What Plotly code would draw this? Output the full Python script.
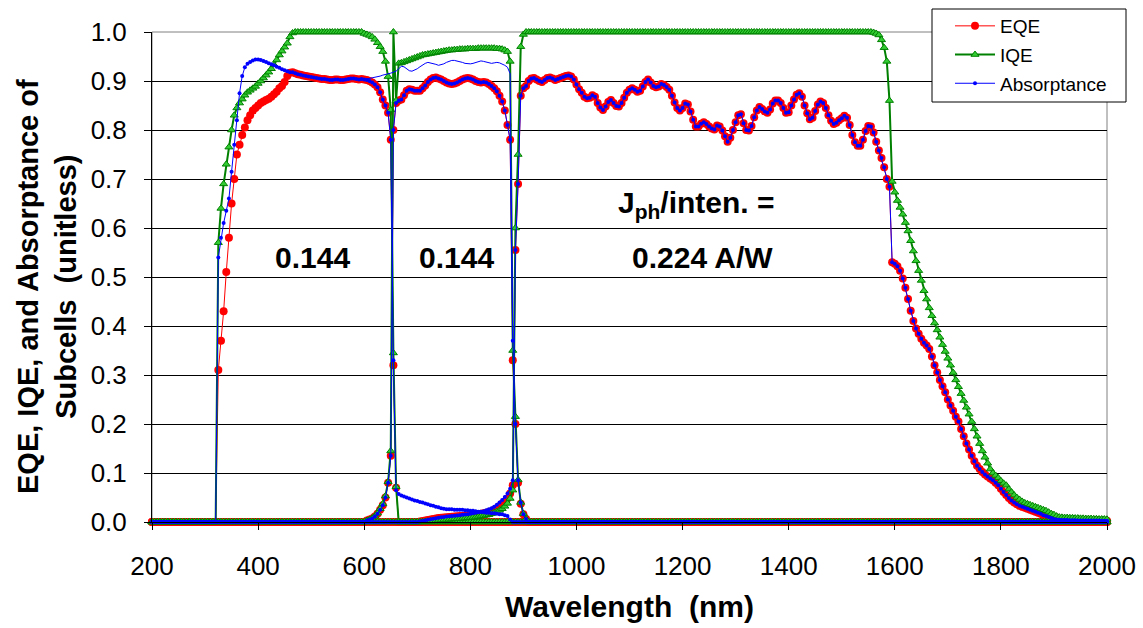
import numpy as np
import plotly.graph_objects as go

STEP = 5
wavelength = np.arange(200, 2001, STEP)

# ---------------- top subcell ----------------
eqe_top_start = 325
eqe_top = [
    0.31, 0.37, 0.43, 0.51, 0.58, 0.65, 0.70, 0.75, 0.77, 0.79, 0.805, 0.82, 0.83, 0.84, 0.845, 0.85, 0.855, 0.858, 0.861, 0.864,
    0.868, 0.873, 0.878, 0.885, 0.89, 0.898, 0.91, 0.917, 0.918, 0.916, 0.914, 0.913, 0.911, 0.91, 0.909, 0.908, 0.907, 0.906, 0.905, 0.904,
    0.904, 0.903, 0.902, 0.902, 0.903, 0.903, 0.902, 0.902, 0.903, 0.904, 0.905, 0.905, 0.904, 0.903, 0.904, 0.903, 0.902, 0.9, 0.897, 0.893,
    0.887, 0.877, 0.862, 0.85, 0.835, 0.78, 0.32, 0.07, 0.0,
]
iqe_top_start = 325
iqe_top = [
    0.57, 0.64, 0.69, 0.73, 0.765, 0.80, 0.83, 0.845, 0.855, 0.863, 0.871, 0.877, 0.881, 0.885, 0.889, 0.895, 0.90, 0.906, 0.912, 0.918,
    0.925, 0.933, 0.943, 0.953, 0.961, 0.969, 0.977, 0.99, 0.998, 1.0, 1.0, 1.0, 1.0, 1.0, 1.0, 1.0, 1.0, 1.0, 1.0, 1.0,
    1.0, 1.0, 1.0, 1.0, 1.0, 1.0, 1.0, 1.0, 1.0, 1.0, 1.0, 1.0, 1.0, 1.0, 1.0, 0.997, 0.995, 0.993, 0.99, 0.985,
    0.978, 0.97, 0.96, 0.94, 0.909, 0.841, 0.345, 0.072, 0.0,
]
abs_top_start = 325
abs_top_uv = [
    0.54, 0.58, 0.61, 0.635, 0.66, 0.715, 0.77, 0.82, 0.875, 0.91, 0.928, 0.935, 0.939, 0.942,
    0.944, 0.944, 0.943, 0.941, 0.939, 0.936, 0.934, 0.932, 0.929, 0.927, 0.924, 0.922, 0.92, 0.918,
]
abs_top_edge = [0.33, 0.065]
abs_top_tail = [
    0.057, 0.054, 0.052, 0.05, 0.048, 0.046, 0.044, 0.043, 0.041, 0.04, 0.038, 0.036, 0.034, 0.033, 0.031, 0.03, 0.028, 0.027, 0.026, 0.026,
    0.026, 0.025, 0.025, 0.025, 0.025, 0.024, 0.024, 0.023, 0.023, 0.022, 0.021, 0.021, 0.02, 0.019, 0.019, 0.018, 0.018, 0.017, 0.016, 0.016,
    0.014, 0.012, 0.005, 0.0,
]
# above 465 nm the top-cell absorptance follows its EQE (IQE = 1)
abs_top = abs_top_uv + eqe_top[28:66] + abs_top_edge + abs_top_tail

# ---------------- middle subcell ----------------
eqe_mid_start = 600
eqe_mid = [
    0.0, 0.003, 0.005, 0.007, 0.011, 0.017, 0.025, 0.034, 0.05, 0.08, 0.135, 0.80, 0.855, 0.86, 0.862, 0.871, 0.88, 0.883, 0.882, 0.88,
    0.88, 0.88, 0.885, 0.891, 0.898, 0.903, 0.906, 0.907, 0.905, 0.903, 0.9, 0.897, 0.895, 0.894, 0.895, 0.897, 0.9, 0.903, 0.905, 0.906,
    0.905, 0.903, 0.9, 0.898, 0.897, 0.898, 0.897, 0.894, 0.89, 0.885, 0.879, 0.87, 0.858, 0.84, 0.81, 0.78, 0.33, 0.20, 0.08, 0.037,
    0.016, 0.006, 0.0,
]
iqe_mid_start = 600
iqe_mid = [
    0.0, 0.003, 0.005, 0.008, 0.012, 0.018, 0.027, 0.037, 0.053, 0.082, 0.145, 1.0, 0.86, 0.936, 0.937, 0.939, 0.941, 0.943, 0.945, 0.947,
    0.949, 0.951, 0.953, 0.954, 0.955, 0.956, 0.957, 0.958, 0.959, 0.96, 0.961, 0.962, 0.963, 0.963, 0.964, 0.964, 0.965, 0.965, 0.965, 0.966,
    0.966, 0.966, 0.966, 0.967, 0.967, 0.967, 0.967, 0.967, 0.967, 0.967, 0.966, 0.966, 0.965, 0.963, 0.96, 0.94, 0.35, 0.215, 0.086, 0.04,
    0.017, 0.006, 0.0,
]
abs_mid_start = 600
abs_mid_edge = [0.37, 0.20, 0.085, 0.04, 0.016, 0.006, 0.0]
abs_mid = eqe_mid[:56] + abs_mid_edge
# total absorptance of the middle junction, drawn as a plain line
abs_mid_total_start = 600
abs_mid_total = [
    0.903, 0.904, 0.905, 0.906, 0.907, 0.909, 0.91, 0.912, 0.913, 0.915, 0.916, 0.918, 0.92, 0.925, 0.93, 0.929, 0.925, 0.921, 0.92, 0.922,
    0.925, 0.929, 0.933, 0.936, 0.938, 0.937, 0.936, 0.934, 0.932, 0.933, 0.935, 0.938, 0.94, 0.942, 0.942, 0.941, 0.94, 0.938, 0.936, 0.935,
    0.935, 0.936, 0.938, 0.94, 0.941, 0.94, 0.939, 0.937, 0.936, 0.937, 0.938, 0.937, 0.935, 0.932, 0.928, 0.915, 0.37,
]

# ---------------- bottom subcell ----------------
eqe_bot_start = 700
eqe_bot = [
    0.0, 0.001, 0.002, 0.003, 0.004, 0.005, 0.006, 0.007, 0.008, 0.0085, 0.009, 0.0095, 0.01, 0.0105, 0.011, 0.0115, 0.012, 0.0125, 0.013, 0.0135,
    0.014, 0.0145, 0.015, 0.016, 0.017, 0.018, 0.019, 0.0205, 0.022, 0.025, 0.028, 0.032, 0.037, 0.042, 0.048, 0.058, 0.075, 0.555, 0.69, 0.87,
    0.885, 0.89, 0.9, 0.905, 0.906, 0.903, 0.9, 0.898, 0.902, 0.906, 0.907, 0.905, 0.902, 0.904, 0.906, 0.908, 0.91, 0.911, 0.909, 0.903,
    0.893, 0.883, 0.876, 0.868, 0.865, 0.866, 0.871, 0.868, 0.855, 0.846, 0.841, 0.848, 0.857, 0.861, 0.855, 0.849, 0.848, 0.855, 0.866, 0.876,
    0.882, 0.885, 0.882, 0.878, 0.88, 0.889, 0.898, 0.903, 0.897, 0.89, 0.887, 0.889, 0.894, 0.892, 0.888, 0.882, 0.87, 0.856, 0.845, 0.84,
    0.845, 0.854, 0.852, 0.838, 0.821, 0.807, 0.807, 0.813, 0.816, 0.812, 0.807, 0.803, 0.801, 0.809, 0.807, 0.799, 0.787, 0.776, 0.784, 0.8,
    0.816, 0.83, 0.832, 0.814, 0.8, 0.799, 0.808, 0.826, 0.84, 0.847, 0.843, 0.838, 0.835, 0.842, 0.854, 0.86, 0.86, 0.855, 0.845, 0.835,
    0.836, 0.85, 0.862, 0.872, 0.875, 0.868, 0.85, 0.834, 0.822, 0.825, 0.839, 0.852, 0.858, 0.855, 0.845, 0.83, 0.819, 0.812, 0.815, 0.82,
    0.824, 0.829, 0.825, 0.81, 0.79, 0.775, 0.768, 0.768, 0.78, 0.798, 0.808, 0.807, 0.795, 0.776, 0.758, 0.743, 0.724, 0.7, 0.684, 0.53,
    0.527, 0.522, 0.513, 0.497, 0.478, 0.455, 0.431, 0.41, 0.395, 0.384, 0.374, 0.366, 0.36, 0.353, 0.338, 0.32, 0.305, 0.29, 0.277, 0.265,
    0.25, 0.238, 0.227, 0.215, 0.205, 0.19, 0.175, 0.16, 0.148, 0.135, 0.124, 0.115, 0.108, 0.102, 0.097, 0.093, 0.089, 0.085, 0.08, 0.075,
    0.068, 0.061, 0.055, 0.049, 0.044, 0.04, 0.036, 0.033, 0.031, 0.029, 0.027, 0.025, 0.023, 0.021, 0.019, 0.017, 0.014, 0.012, 0.01, 0.008,
    0.006, 0.005, 0.0045, 0.004, 0.004, 0.004, 0.0035, 0.0035, 0.0035, 0.003, 0.003, 0.003, 0.003, 0.003, 0.003, 0.003, 0.003, 0.003, 0.0025, 0.0025, 0.0025,
]
iqe_bot_start = 700
iqe_bot = (
    [0.0, 0.0, 0.0005, 0.001, 0.0015, 0.002, 0.0025, 0.003, 0.0035, 0.004, 0.0045, 0.005, 0.0055, 0.006, 0.0065, 0.0065, 0.007, 0.0075, 0.008, 0.0085,
     0.009, 0.0095, 0.01, 0.011, 0.012, 0.013, 0.014, 0.015, 0.017, 0.019, 0.021, 0.024, 0.027, 0.032, 0.038, 0.048, 0.065, 0.6, 0.75, 0.97,
     0.995]
    + [1.0] * 131
    + [0.999, 0.997, 0.994, 0.984, 0.968, 0.94, 0.86, 0.695,
       0.673, 0.656, 0.642, 0.628, 0.611, 0.594, 0.574, 0.553, 0.533, 0.513, 0.493, 0.472, 0.455, 0.437, 0.421, 0.406, 0.392, 0.377, 0.362, 0.348,
       0.334, 0.32, 0.305, 0.29, 0.276, 0.262, 0.248, 0.234, 0.22, 0.205, 0.19, 0.175, 0.16, 0.145, 0.132, 0.12, 0.108, 0.1, 0.095, 0.09,
       0.084, 0.079, 0.075, 0.067, 0.061, 0.055, 0.05, 0.046, 0.042, 0.039, 0.037, 0.035, 0.033, 0.031, 0.029, 0.027, 0.025, 0.023, 0.02, 0.017,
       0.015, 0.012, 0.01, 0.0095, 0.009, 0.009, 0.0085, 0.0085, 0.008, 0.008, 0.0075, 0.0075, 0.007, 0.007, 0.007, 0.0065, 0.0065, 0.006, 0.006, 0.006, 0.0055]
)
abs_bot_start = 700
abs_bot_edge = [
    0.0, 0.001, 0.002, 0.003, 0.0045, 0.0055, 0.0065, 0.0075, 0.0085, 0.0095, 0.01, 0.011, 0.0115, 0.012, 0.013, 0.0135, 0.014, 0.015, 0.0155, 0.016,
    0.017, 0.018, 0.019, 0.02, 0.021, 0.022, 0.024, 0.026, 0.028, 0.031, 0.035, 0.04, 0.045, 0.051, 0.058, 0.068, 0.085,
]
# from 885 nm on the bottom-cell absorptance coincides with its EQE
abs_bot = abs_bot_edge + eqe_bot[37:]

# photocurrent-per-intensity labels
labels = [
    dict(nm=503, val=0.539, text="<b>0.144</b>"),
    dict(nm=773, val=0.539, text="<b>0.144</b>"),
    dict(nm=1227, val=0.647, text="<b>J<sub>ph</sub>/inten. =</b>"),
    dict(nm=1237, val=0.539, text="<b>0.224 A/W</b>"),
]


def on_grid(start, values):
    """Place a subcell spectrum on the common wavelength grid (zero elsewhere)."""
    y = np.zeros(len(wavelength))
    i = (start - int(wavelength[0])) // STEP
    y[i:i + len(values)] = values
    return y


FONT = "Liberation Sans, Arial, sans-serif"
RED, GREEN, LIGHT_GREEN, BLUE = "#FF0000", "#008000", "#33CC33", "#0000FF"

styles = {
    "EQE": dict(line=dict(color=RED, width=1),
                marker=dict(symbol="circle", size=8, color=RED, line=dict(width=0))),
    "IQE": dict(line=dict(color=GREEN, width=2),
                marker=dict(symbol="triangle-up", size=7, color=LIGHT_GREEN, line=dict(color=GREEN, width=1))),
    "Absorptance": dict(line=dict(color=BLUE, width=1),
                        marker=dict(symbol="circle", size=4, color=BLUE, line=dict(width=0))),
}

series = [
    ("EQE", eqe_top_start, eqe_top),
    ("EQE", eqe_mid_start, eqe_mid),
    ("EQE", eqe_bot_start, eqe_bot),
    ("IQE", iqe_top_start, iqe_top),
    ("IQE", iqe_mid_start, iqe_mid),
    ("IQE", iqe_bot_start, iqe_bot),
    ("Absorptance", abs_top_start, abs_top),
    ("Absorptance", abs_mid_start, abs_mid),
    ("Absorptance", abs_bot_start, abs_bot),
]

fig = go.Figure()
seen = set()
for name, start, vals in series:
    fig.add_trace(go.Scatter(
        x=wavelength, y=on_grid(start, vals), mode="lines+markers", name=name,
        legendgroup=name, showlegend=name not in seen, cliponaxis=False,
        **styles[name]))
    seen.add(name)

wl_total = wavelength[(abs_mid_total_start - 200) // STEP:][:len(abs_mid_total)]
fig.add_trace(go.Scatter(
    x=wl_total, y=abs_mid_total, mode="lines", line=dict(color=BLUE, width=1),
    legendgroup="Absorptance", showlegend=False, cliponaxis=False))

# plot-area geometry (pixels)
W, H = 1143, 628
L, R, T, B = 152, 1107, 32, 522


def px(xp):
    return (xp - L) / (R - L)


def py(yp):
    return (B - yp) / (B - T)


for lab in labels:
    fig.add_annotation(x=lab["nm"], y=lab["val"], text=lab["text"], showarrow=False,
                       font=dict(family=FONT, size=30, color="black"),
                       xanchor="center", yanchor="middle")

fig.add_annotation(xref="paper", yref="paper", x=px(47), y=py(287),
                   text="<b>EQE, IQE, and Absorptance of<br>Subcells\u00a0 (unitless)</b>",
                   textangle=-90, showarrow=False, xanchor="center", yanchor="middle",
                   font=dict(family=FONT, size=29, color="black"))
fig.add_annotation(xref="paper", yref="paper", x=0.5, y=py(606),
                   text="<b>Wavelength\u00a0 (nm)</b>", showarrow=False,
                   xanchor="center", yanchor="middle",
                   font=dict(family=FONT, size=30, color="black"))

# plot-area frame and legend box
fig.add_shape(type="rect", xref="paper", yref="paper", x0=0, y0=0, x1=1, y1=1,
              line=dict(color="#808080", width=1), layer="below")
fig.add_shape(type="rect", xref="paper", yref="paper",
              x0=px(932), x1=px(1126), y0=py(102), y1=py(9),
              line=dict(color="black", width=1), fillcolor="white", layer="above")

fig.update_layout(
    width=W, height=H,
    margin=dict(l=L, r=W - R, t=T, b=H - B, pad=0, autoexpand=False),
    paper_bgcolor="white", plot_bgcolor="white",
    font=dict(family=FONT, color="black"),
    showlegend=True,
    legend=dict(x=px(950), y=py(7), xanchor="left", yanchor="top",
                bgcolor="rgba(0,0,0,0)", borderwidth=0,
                font=dict(family=FONT, size=19, color="black"),
                tracegroupgap=1, itemwidth=40),
    xaxis=dict(range=[200, 2000], tick0=200, dtick=200, showgrid=False, zeroline=False,
               showline=True, linecolor="black", linewidth=1,
               ticks="outside", ticklen=7, tickcolor="black",
               tickfont=dict(family=FONT, size=26, color="black"), ticklabelstandoff=14),
    yaxis=dict(range=[0, 1.0], tick0=0, dtick=0.1, tickformat=".1f",
               showgrid=True, gridcolor="black", gridwidth=1, zeroline=False,
               showline=True, linecolor="black", linewidth=1,
               ticks="outside", ticklen=7, tickcolor="black",
               tickfont=dict(family=FONT, size=26, color="black"), ticklabelstandoff=12),
)

fig.write_html("out.html")
